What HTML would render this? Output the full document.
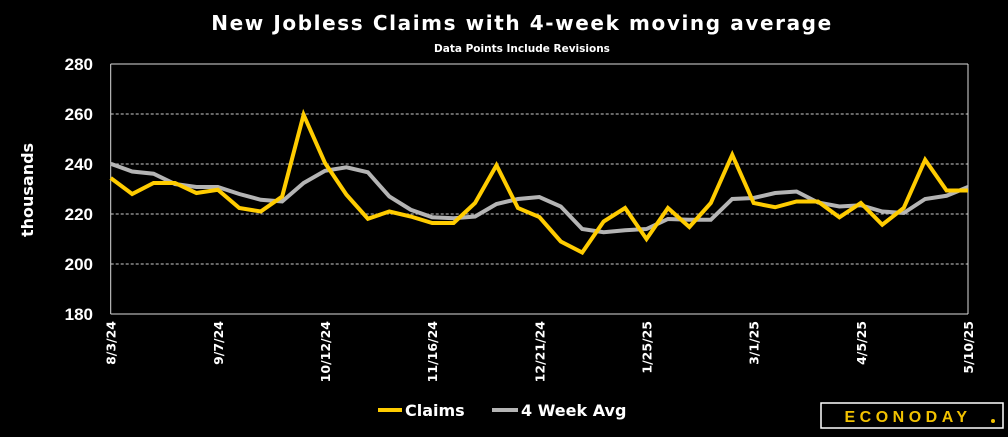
<!DOCTYPE html>
<html><head><meta charset="utf-8"><style>
body{margin:0;background:#000;width:1008px;height:432px;overflow:hidden;font-family:"Liberation Sans",sans-serif}
svg text{font-family:"Liberation Sans",sans-serif;font-weight:bold;fill:#fff}
svg text.dv{font-family:"DejaVu Sans",sans-serif}
</style></head><body>
<svg id="chart" width="1008" height="432">
<text class="dv" x="522" y="30" text-anchor="middle" font-size="20" letter-spacing="1.6">New Jobless Claims with 4-week moving average</text>
<text class="dv" x="522" y="52" text-anchor="middle" font-size="10.5">Data Points Include Revisions</text>
<text class="dv" transform="translate(33,190) rotate(-90)" text-anchor="middle" font-size="16">thousands</text>
<g id="grid"></g><g id="yticks"></g><g id="xticks"></g><g id="series"></g>
<line x1="378" y1="410" x2="402" y2="410" stroke="#ffcc00" stroke-width="4"/>
<text class="dv" x="405" y="416" font-size="16">Claims</text>
<line x1="492" y1="410" x2="518" y2="410" stroke="#b4b4b4" stroke-width="4"/>
<text class="dv" x="521" y="416" font-size="16">4 Week Avg</text>
<rect x="821" y="403" width="182" height="25" fill="#000" stroke="#fff" stroke-width="1.5"/>
<text x="908" y="422" text-anchor="middle" font-size="16" letter-spacing="4.5" style="fill:#f2c200">ECONODAY</text>
<circle cx="993" cy="421" r="2" fill="#f2c200"/>
</svg>
<script>
const dateLabels=["8/3/24","9/7/24","10/12/24","11/16/24","12/21/24","1/25/25","3/1/25","4/5/25","5/10/25"];
const yTicks=[180,200,220,240,260,280];
const claims=[234.4,228,232.4,232.4,228.4,229.7,222.4,221,227,259.7,240.4,227.7,218.1,221,219,216.4,216.4,224.4,239.5,222.4,218.8,209,204.6,217,222.4,210,222.4,214.8,224.4,243.7,224.4,222.7,225,225,218.7,224.4,215.7,222.4,241.7,229.4,229.4];
const avg4=[240.1,237,236.1,232,230.8,230.8,228,225.7,225,232.4,237.3,238.7,236.7,227,221.7,218.7,218.3,219,224,226,226.8,223,214,212.7,213.5,214,218,217.7,217.7,226,226.4,228.4,229,224.6,223,223.5,221,220.4,226,227.3,230.8];
const NS="http://www.w3.org/2000/svg";
const L=110.7,R=968,T=64,B=314;
const x=i=>L+(R-L)*i/(claims.length-1);
const y=v=>B-(v-180)*(B-T)/100;
function mk(tag,attrs,parent){const e=document.createElementNS(NS,tag);for(const k in attrs)e.setAttribute(k,attrs[k]);document.getElementById(parent).appendChild(e);return e;}
yTicks.forEach(v=>{
  let g;
  if(v===180||v===280){g=mk('line',{x1:L,x2:R,y1:y(v),y2:y(v),stroke:'#ddd','stroke-width':1},'grid');}
  else{g=mk('line',{x1:L,x2:R,y1:y(v),y2:y(v),stroke:'#ccc','stroke-width':1,'stroke-dasharray':'3,2'},'grid');}
  
  
  const t=mk('text',{x:93,y:y(v)+6,'text-anchor':'end','font-size':17},'yticks');
  t.textContent=v;
  
  
});
['L','R'].forEach(s=>{const xx=s==='L'?L:R;const a=mk('line',{x1:xx,x2:xx,y1:T,y2:B,stroke:'#ddd','stroke-width':1},'grid');

});
dateLabels.forEach((d,k)=>{
  const xx=x(k*5)+5;
  const t=mk('text',{transform:`translate(${xx},321) rotate(-90)`,'text-anchor':'end','font-size':12.5,'class':'dv'},'xticks');
  t.textContent=d;
  
  
});
function line(data,color,name){
  const p=mk('polyline',{points:data.map((v,i)=>x(i)+','+y(v)).join(' '),fill:'none',stroke:color,'stroke-width':4,'stroke-linejoin':'miter'},'series');
  
  
}
line(avg4,'#b4b4b4','avg-line');
line(claims,'#ffcc00','claims-line');
</script>
</body></html>
